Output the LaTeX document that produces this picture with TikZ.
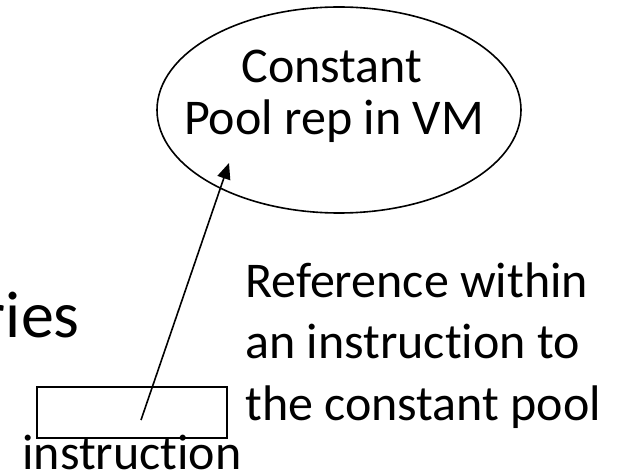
\documentclass[tikz,border=0pt]{standalone}
\usepackage{fontspec}
\setmainfont{Carlito}[Ligatures={NoCommon}]
\usetikzlibrary{shapes.geometric,arrows.meta}

\tikzset{
  pool/.style={draw,black,line width=1.2pt,ellipse,inner sep=0pt,minimum width=273pt,minimum height=154.5pt},
  instrbox/.style={draw,black,line width=1.2pt,rectangle,inner sep=0pt,minimum width=142.5pt,minimum height=38.25pt},
  ptr/.style={-{Triangle[length=12pt,width=10pt]},black,line width=1.2pt},
  txt/.style={inner sep=0pt,font=\fontsize{37.5}{46}\selectfont}
}

\begin{document}
\begin{tikzpicture}[x=0.75pt,y=-0.75pt]

%fix page size
\useasboundingbox (0,0) rectangle (621,474);

%draw constant pool
\node[pool] (cpool) at (339,110) {};
\node[txt,anchor=base] (cname1) at (332,83) {Constant};
\node[txt,anchor=base] (cname2) at (334,135) {Pool rep in VM};

%label cut off at left
\node[inner sep=0pt,anchor=base east,font=\fontsize{49.5}{60}\selectfont] (title) at (80,337) {ries};

%draw instruction box
\node[instrbox] (instr) at (132,412.5) {};
\node[txt,anchor=base] (instrlbl) at (132,469) {instruction};

%draw reference arrow
\coordinate (reftail) at (141,420);
\coordinate (reftip) at (229,163);
\draw[ptr] (reftail)--(reftip);

%explain arrow
\foreach \line [count=\i] in {Reference within,an instruction to,the constant pool}
	{
	\node[txt,anchor=base west] (note\i) at (245,{297+61.5*(\i-1)}) {\line};
	}

\end{tikzpicture}
\end{document}
